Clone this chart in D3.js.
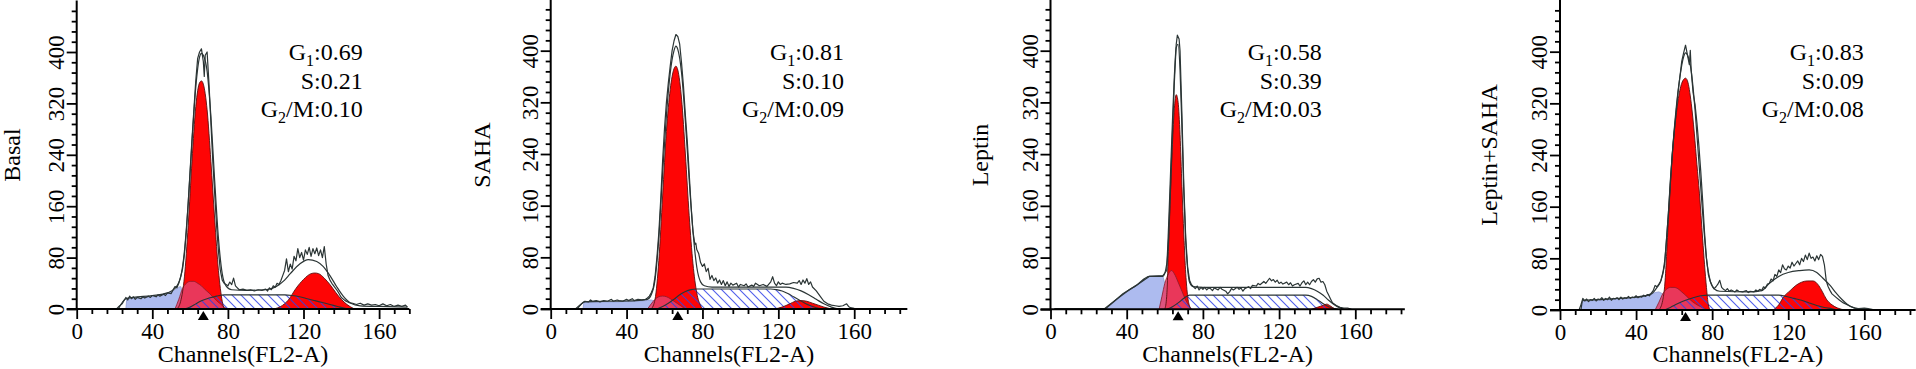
<!DOCTYPE html>
<html>
<head>
<meta charset="utf-8">
<script src="https://cdn.jsdelivr.net/npm/d3@7"></script>
<style>
  body { margin: 0; background: #fff; }
  svg { display: block; }
</style>
</head>
<body>
<script>
// ---- data ----
const samples = ["Basal", "SAHA", "Leptin", "Leptin+SAHA"];
const g1Frac = [0.69, 0.81, 0.58, 0.83];
const sFrac = [0.21, 0.10, 0.39, 0.09];
const g2Frac = [0.10, 0.09, 0.03, 0.08];
const markerChannel = [67, 67, 67, 66];
const channelMax = [176, 188, 186, 187];
const xTickLabels = [0, 40, 80, 120, 160];
const yTickLabels = [0, 80, 160, 240, 320, 400];

// raw data, [channel, count]
const rawBasal = [[21,0],[22,3],[24,8],[26,18],[27,14],[28,20],[29,16],[30,19],[31,15],[32,18],[34,16],[35,19],[36,17],[38,20],[39,18],[40,21],[42,19],[43,22],[44,20],[46,23],[47,21],[48,25],[50,24],[51,30],[52,35],[53,33],[54,40],[55,50],[56,62],[57,85],[58,120],[59,165],[60,215],[61,265],[62,310],[63,355],[64,390],[65,400],[66,405],[67,385],[67.5,362],[68,395],[69,400],[70,350],[71,290],[72,230],[73,180],[74,130],[75,90],[76,60],[77,45],[78,40],[79,38],[80,36],[81,42],[82,38],[83,48],[84,36],[85,33],[86,30],[88,31],[90,29],[92,30],[94,28],[96,30],[98,29],[100,31],[101,28],[102,33],[103,30],[104,36],[105,34],[106,40],[107,38],[108,44],[109,52],[110,60],[111,78],[112,58],[113,70],[114,62],[115,82],[116,75],[117,94],[118,80],[119,88],[120,76],[121,92],[122,85],[123,96],[124,82],[125,94],[126,86],[127,95],[128,83],[129,92],[130,80],[131,97],[132,70],[133,52],[134,45],[135,40],[136,36],[138,28],[140,18],[142,13],[144,10],[146,9],[148,7],[150,9],[152,6],[154,8],[156,6],[158,7],[160,5],[162,8],[164,5],[166,7],[168,4],[170,6],[172,4],[174,6],[175,3]];
const rawSaha = [[13,0],[15,5],[17,10],[18,12],[20,11],[21,14],[22,12],[24,13],[26,11],[28,13],[30,12],[32,15],[33,12],[35,14],[36,13],[38,12],[40,15],[41,13],[43,16],[44,13],[46,15],[48,14],[50,15],[51,17],[52,20],[53,25],[54,32],[55,50],[56,80],[57,118],[58,170],[59,230],[60,280],[61,320],[62,350],[63,376],[64,400],[65,415],[66,425],[67,422],[68,410],[69,380],[70,345],[71,300],[72,260],[73,210],[74,160],[75,120],[76,100],[76.5,102],[77,92],[78,86],[79,72],[80,66],[81,70],[82,58],[83,63],[84,46],[85,52],[86,44],[87,48],[88,40],[89,45],[90,38],[91,44],[92,36],[93,42],[94,35],[95,40],[96,37],[98,40],[99,34],[100,38],[102,36],[103,39],[104,34],[106,37],[107,35],[108,40],[110,36],[112,38],[114,35],[116,42],[117,50],[118,40],[119,36],[120,42],[121,38],[122,40],[124,38],[126,39],[128,41],[130,40],[131,44],[132,38],[133,45],[134,40],[135,47],[136,38],[137,42],[138,34],[140,28],[142,20],[144,12],[146,8],[148,6],[150,5],[152,4],[154,5],[156,8],[157,4],[158,2],[160,1],[163,0]];
const rawLeptin = [[2,1],[29,1],[38,24],[45,37],[52,51],[59,52],[61,60],[62,110],[63,190],[64,270],[65,350],[66,410],[66.6,424],[67.5,418],[68,400],[69,300],[70,190],[71,110],[72,65],[73,45],[74,38],[75,35],[76,32],[77,36],[78,30],[79,34],[80,31],[81,34],[82,30],[83,33],[84,32],[85,29],[86,33],[88,30],[89,34],[90,31],[92,28],[93,24],[94,27],[95,32],[96,30],[98,34],[99,31],[100,33],[101,28],[102,32],[104,35],[105,32],[106,37],[108,36],[109,40],[110,38],[112,43],[113,40],[115,48],[116,44],[117,46],[118,42],[119,45],[120,40],[121,42],[122,39],[124,42],[125,38],[126,41],[127,36],[128,38],[130,40],[131,36],[132,41],[133,44],[134,38],[135,42],[136,38],[137,43],[138,46],[139,42],[140,47],[141,48],[142,42],[143,43],[144,38],[145,28],[146,22],[147,16],[148,10],[150,6],[152,3],[154,2],[156,2],[158,0]];
const rawLeptinSaha = [[10,0],[11,8],[12,18],[13,14],[14,17],[15,13],[16,16],[17,15],[18,18],[19,14],[20,17],[21,16],[22,19],[23,15],[24,18],[25,16],[26,20],[27,15],[28,18],[29,17],[30,19],[31,16],[32,20],[33,17],[34,19],[35,18],[36,21],[37,18],[38,20],[39,19],[40,22],[41,19],[42,21],[43,20],[44,23],[45,21],[46,24],[47,22],[48,26],[49,30],[50,38],[51,36],[52,40],[53,45],[54,55],[55,70],[56,110],[57,150],[58,200],[59,240],[60,275],[61,305],[62,335],[63,360],[64,385],[65,398],[66,410],[67,395],[68,380],[68.5,402],[69,370],[70,336],[71,318],[72,290],[73,255],[74,215],[75,170],[76,120],[77,80],[78,55],[79,44],[80,38],[81,33],[82,36],[83,40],[84,46],[85,35],[86,32],[87,30],[88,33],[89,29],[90,31],[92,28],[93,31],[94,29],[96,28],[98,30],[99,27],[100,29],[102,28],[103,31],[104,29],[105,32],[106,30],[107,36],[108,34],[109,40],[110,41],[111,48],[112,45],[113,55],[114,52],[115,62],[116,58],[117,70],[118,64],[119,62],[120,68],[121,65],[122,74],[123,68],[124,72],[125,76],[126,70],[127,80],[128,75],[129,85],[130,78],[131,88],[132,80],[133,82],[134,76],[135,84],[136,78],[137,86],[138,83],[139,70],[140,45],[141,36],[142,30],[143,25],[145,20],[147,15],[149,11],[151,8],[153,5],[155,3],[157,2],[160,3],[162,2],[164,1],[165,0]];

// model fit (total)
const fitBasal = [[22,0],[26,16],[30,18],[40,21],[48,25],[52,32],[55,50],[57,90],[59,165],[61,260],[63,345],[65,392],[66,398],[67,395],[69,370],[71,300],[73,200],[75,110],[77,55],[79,36],[82,30],[90,29],[100,30],[105,34],[110,45],[113,55],[118,70],[122.5,77],[127,74],[130.5,66],[134,52],[137.5,35],[141,20],[145,9],[150,5],[160,4],[175,3]];
const fitSaha = [[14,0],[18,11],[30,12],[45,13],[51,15],[53,22],[55,45],[57,110],[59,210],[61,300],[63,365],[65,400],[66,407],[67,402],[69,365],[71,290],[73,200],[75,120],[77,65],[79,42],[81,36],[85,34],[124,34],[128,32],[132,28],[136,22],[140,15],[144,8],[148,3],[152,0]];
const fitLeptin = [[28,0],[38,23],[45,37],[52,51],[59,51],[61,70],[62,130],[63,210],[64,290],[65,360],[66,405],[67,410],[68,370],[69,280],[70,180],[71,105],[72,62],[73,42],[75,35],[80,34],[134,34],[137,32],[140,28],[143,22],[146,14],[149,7],[152,2],[154,0]];
const fitLeptinSaha = [[11,0],[12,15],[20,16],[30,18],[40,20],[48,25],[51,35],[53,45],[55,75],[57,150],[59,240],[61,310],[63,360],[65,392],[66,398],[67,395],[69,370],[71,310],[73,230],[75,150],[77,80],[79,45],[81,33],[84,29],[100,28],[106,30],[110,41],[115,52],[120,58],[126,61],[131,62],[135,58],[138,50],[142,38],[145,27],[148,17],[151,9],[154,4],[158,1],[162,0]];

// debris
const debrisBasal = [[26,0],[26.5,16],[28,18],[30,17],[32,18],[34,17],[36,19],[38,19],[40,20],[42,20],[44,21],[46,23],[48,24],[50,26],[52,30],[54,34],[55,35],[57,20],[59,8],[61,0]];
const debrisSaha = [[17,0],[17.5,10],[20,10],[25,10],[30,11],[35,11],[40,12],[45,12],[50,13],[53,14],[55,12],[57,6],[59,0]];
const debrisLeptin = [[29,0],[33,10],[38,22],[42,30],[46,39],[50,47],[52,51],[59,51],[60,40],[61,20],[62,0]];
const debrisLeptinSaha = [[11,0],[12,13],[15,14],[20,15],[25,16],[30,17],[35,18],[40,20],[45,22],[48,24],[50,27],[52,28],[54,25],[56,15],[58,5],[59,0]];

// G1 peak
const g1Basal = [[53,0],[55,12],[57,50],[59,130],[61,230],[63,315],[65,352],[66,355],[67,350],[69,310],[71,230],[73,140],[75,60],[77,12],[78,0]];
const g1Saha = [[53,0],[55,15],[57,75],[59,175],[61,275],[63,340],[65,372],[66,376],[67,370],[69,325],[71,240],[73,145],[75,70],[77,25],[79,5],[80,0]];
const g1Leptin = [[60,0],[61,20],[62,100],[63,180],[64,255],[65,310],[66,332],[67,320],[68,270],[69,190],[70,115],[71,55],[72,20],[73,5],[74,0]];
const g1LeptinSaha = [[52,0],[54,15],[55,36],[57,140],[59,240],[61,300],[63,340],[65,357],[66,359],[67,355],[69,320],[70.6,274],[72,225],[73.3,181],[75,110],[76,70],[77,35],[78,8],[79,0]];

// G1 aggregates (pink)
const aggBasal = [[52,0],[54,15],[56,32],[58,40],[60,43],[62,43],[64,40],[66,36],[68,30],[70,25],[72,19],[74,13],[76,8],[78,3],[80,0]];
const aggSaha = [[51,0],[53,8],[55,15],[57,19],[59,20],[61,19],[63,16],[65,12],[67,8],[69,4],[71,0]];
const aggLeptin = [[57,0],[58.5,20],[60,40],[62,55],[63.5,60],[65,55],[67,42],[69,28],[71,14],[73,4],[74,0]];
const aggLeptinSaha = [[50,0],[52,12],[54,25],[56,32],[58,35],[60,35],[62,33],[64,28],[66,23],[68,17],[70,12],[72,8],[74,5],[76,2],[78,0]];

// S phase (hatched)
const sBasal = [[57,0],[60,3],[63,8],[66,13],[70,17],[74,20],[78,22],[110,22],[114,21],[118,19],[122,16],[126,13],[130,10],[134,7],[138,4],[142,1],[144,0]];
const sSaha = [[56,0],[59,4],[62,9],[65,15],[68,22],[71,27],[74,30],[77,31],[116,31],[119,30],[122,28],[125,24],[128,19],[131,14],[134,9],[137,5],[140,2],[143,0]];
const sLeptin = [[61,0],[64,4],[67,10],[70,17],[73,22],[134,22],[137,20],[140,15],[143,9],[146,4],[149,1],[151,0]];
const sLeptinSaha = [[55,0],[58,4],[62,10],[66,15],[70,19],[74,22],[78,23],[115,23],[119,21],[123,18],[127,15],[131,11],[135,7],[139,4],[143,2],[146,0]];

// G2/M peak
const g2Basal = [[104,0],[108,4],[112,14],[116,32],[120,46],[124,55],[126,56],[128,55],[131,48],[134,38],[137,26],[140,15],[143,7],[147,0]];
const g2Saha = [[118,0],[122,3],[126,8],[129,12],[132,13],[135,12],[138,9],[141,6],[144,3],[148,0]];
const g2Leptin = [[137,0],[140,3],[143,6],[145,8],[147,5],[149,1],[150,0]];
const g2LeptinSaha = [[112,0],[115,8],[117.5,20],[121,30],[124,38],[127,43],[130,45],[133,45],[136,38],[138,28],[140,17],[143,8],[146,3],[150,0]];

const panels = samples.map((name, i) => ({
  name,
  raw: [rawBasal, rawSaha, rawLeptin, rawLeptinSaha][i],
  fit: [fitBasal, fitSaha, fitLeptin, fitLeptinSaha][i],
  debris: [debrisBasal, debrisSaha, debrisLeptin, debrisLeptinSaha][i],
  g1: [g1Basal, g1Saha, g1Leptin, g1LeptinSaha][i],
  agg: [aggBasal, aggSaha, aggLeptin, aggLeptinSaha][i],
  s: [sBasal, sSaha, sLeptin, sLeptinSaha][i],
  g2: [g2Basal, g2Saha, g2Leptin, g2LeptinSaha][i],
}));

// ---- layout (pixels) ----
const width = 1916, height = 369;
const originX = [76.7, 550.7, 1050.5, 1560];
const pxPerChannel = [1.89, 1.897, 1.905, 1.902];
const originY = [309, 309, 309.3, 310];
const pxPerCount = [0.6425, 0.6458, 0.6465, 0.6458];
const statsRight = [362.7, 844, 1321.7, 1863.7];
const titleOffset = [57, 61, 62.5, 63];
const yMax = 480;

const serif = "'Liberation Serif', 'Times New Roman', serif";
const lineColor = "#2b3535";

const svg = d3.select("body").append("svg")
  .attr("width", width)
  .attr("height", height)
  .attr("font-family", serif);

const defs = svg.append("defs");
defs.append("pattern")
  .attr("id", "hatch")
  .attr("patternUnits", "userSpaceOnUse")
  .attr("width", 9)
  .attr("height", 9)
  .append("path")
  .attr("d", "M-2,-2L11,11M-2,7L2,11M7,-2L11,2")
  .attr("stroke", "#3142e8")
  .attr("stroke-width", 1.1)
  .attr("stroke-opacity", 0.85);

panels.forEach((p, i) => {
  const x = d3.scaleLinear()
    .domain([0, channelMax[i]])
    .range([originX[i], originX[i] + channelMax[i] * pxPerChannel[i]]);
  const y = d3.scaleLinear()
    .domain([0, yMax])
    .range([originY[i], originY[i] - yMax * pxPerCount[i]]);

  const g = svg.append("g");

  const area = (curve) => d3.area()
    .x((d) => x(d[0]))
    .y0(y(0))
    .y1((d) => y(d[1]))
    .curve(curve);
  const line = (curve) => d3.line()
    .x((d) => x(d[0]))
    .y((d) => y(d[1]))
    .curve(curve);
  const smooth = d3.curveMonotoneX;

  // debris
  g.append("path").attr("d", area(d3.curveLinear)(p.debris))
    .attr("fill", "#adbbef");
  g.append("path").attr("d", line(d3.curveLinear)(p.debris))
    .attr("fill", "none").attr("stroke", "#8f9dd6").attr("stroke-width", 0.8);

  // S phase background
  g.append("path").attr("d", area(smooth)(p.s)).attr("fill", "#fff");

  // G1 and G2 peaks
  [p.g1, p.g2].forEach((d) => {
    g.append("path").attr("d", area(smooth)(d)).attr("fill", "#fe0505");
  });

  // aggregates
  g.append("path").attr("d", area(smooth)(p.agg))
    .attr("fill", "#e5416a").attr("fill-opacity", 0.85);
  g.append("path").attr("d", line(smooth)(p.agg))
    .attr("fill", "none").attr("stroke", "#8a1a2a").attr("stroke-width", 0.8);

  // S phase hatch and outline
  g.append("path").attr("d", area(smooth)(p.s)).attr("fill", "url(#hatch)");
  g.append("path").attr("d", line(smooth)(p.s))
    .attr("fill", "none").attr("stroke", lineColor).attr("stroke-width", 1.1);

  // peak outlines
  [p.g1, p.g2].forEach((d) => {
    g.append("path").attr("d", line(smooth)(d))
      .attr("fill", "none").attr("stroke", "#5a1010").attr("stroke-width", 0.9);
  });

  // fit and raw histogram
  g.append("path").attr("d", line(smooth)(p.fit))
    .attr("fill", "none").attr("stroke", lineColor).attr("stroke-width", 1.2);
  g.append("path").attr("d", line(d3.curveLinear)(p.raw))
    .attr("fill", "none").attr("stroke", lineColor).attr("stroke-width", 1.2)
    .attr("stroke-linejoin", "round");

  // x axis
  const xAxis = g.append("g")
    .attr("transform", `translate(0,${y(0)})`)
    .call(d3.axisBottom(x)
      .tickValues(d3.range(0, channelMax[i] + 1, 8))
      .tickSizeOuter(0)
      .tickFormat((v) => v));
  xAxis.select(".domain").remove();
  xAxis.append("line")
    .attr("x1", x(0) - 10).attr("x2", x(channelMax[i]))
    .attr("stroke", "#000").attr("stroke-width", 2);
  xAxis.selectAll(".tick line")
    .attr("y2", (v) => xTickLabels.includes(v) ? 10 : 5)
    .attr("stroke-width", 1.8);
  xAxis.selectAll(".tick text")
    .filter((v) => !xTickLabels.includes(v)).remove();
  xAxis.selectAll(".tick text")
    .attr("y", 30).attr("dy", 0)
    .attr("font-size", 23).attr("font-family", serif).attr("fill", "#000");

  // y axis
  const yAxis = g.append("g")
    .attr("transform", `translate(${x(0)},0)`)
    .call(d3.axisLeft(y)
      .tickValues(d3.range(0, yMax, 16))
      .tickSizeOuter(0)
      .tickFormat((v) => v));
  yAxis.select(".domain").remove();
  yAxis.append("line")
    .attr("y1", y(0) + 1).attr("y2", y(yMax))
    .attr("stroke", "#000").attr("stroke-width", 2);
  yAxis.selectAll(".tick line")
    .attr("x2", (v) => yTickLabels.includes(v) ? -10 : -5)
    .attr("stroke-width", 1.8);
  yAxis.selectAll(".tick text")
    .filter((v) => !yTickLabels.includes(v)).remove();
  yAxis.selectAll(".tick text")
    .attr("transform", "rotate(-90)")
    .attr("x", 0).attr("y", -13).attr("dy", 0)
    .attr("text-anchor", "middle")
    .attr("font-size", 23).attr("font-family", serif).attr("fill", "#000");

  // G1 marker
  const mx = x(markerChannel[i]), my = y(0);
  g.append("path")
    .attr("d", `M${mx},${my + 2}L${mx + 5.5},${my + 11}L${mx - 5.5},${my + 11}Z`)
    .attr("fill", "#000");

  // axis titles
  g.append("text")
    .attr("x", (x(0) + x(channelMax[i])) / 2)
    .attr("y", 362)
    .attr("text-anchor", "middle")
    .attr("font-size", 24)
    .text("Channels(FL2-A)");
  g.append("text")
    .attr("transform", `translate(${x(0) - titleOffset[i]},155) rotate(-90)`)
    .attr("text-anchor", "middle")
    .attr("font-size", 24)
    .text(p.name);

  // phase fractions
  const stats = [
    { main: "G", sub: "1", rest: ":" + g1Frac[i].toFixed(2), base: 60 },
    { main: "S", sub: "", rest: ":" + sFrac[i].toFixed(2), base: 89 },
    { main: "G", sub: "2", rest: "/M:" + g2Frac[i].toFixed(2), base: 117 },
  ];
  stats.forEach((s) => {
    const t = g.append("text")
      .attr("x", statsRight[i])
      .attr("y", s.base)
      .attr("text-anchor", "end")
      .attr("font-size", 24);
    t.append("tspan").text(s.main);
    if (s.sub) {
      t.append("tspan").attr("font-size", 16).attr("dy", 6).text(s.sub);
      t.append("tspan").attr("dy", -6).text(s.rest);
    } else {
      t.append("tspan").text(s.rest);
    }
  });
});
</script>
</body>
</html>
